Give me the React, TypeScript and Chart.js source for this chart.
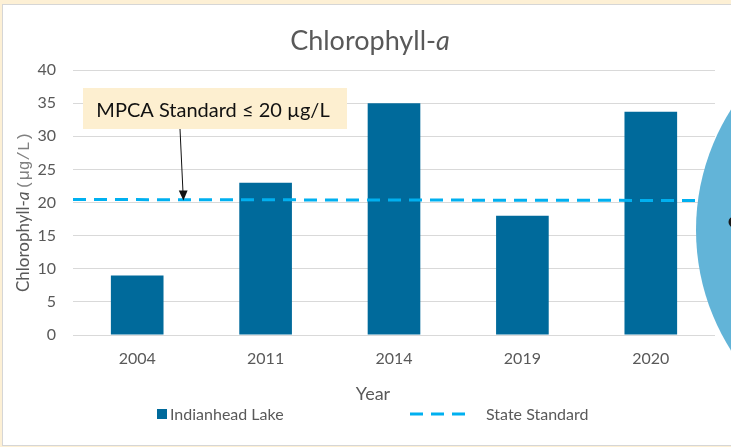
import React, { useEffect, useRef } from 'react';
import { Chart, registerables } from 'chart.js';

Chart.register(...registerables);

// ---- data ----
const years = ['2004', '2011', '2014', '2019', '2020'];
const lakeValues = [9, 23, 35, 18, 33.7];
const standardX = [0, 1];
const standardY = [20.45, 20.3];
const yMin = 0;
const yMax = 40;
const yStep = 5;

const lakeLabel = 'Indianhead Lake';
const standardLabel = 'State Standard';
const titleMain = 'Chlorophyll-';
const titleItalic = 'a';
const yTitleMain = 'Chlorophyll-';
const yTitleItalic = 'a';
const yTitleUnit = '(\u00b5g/L)';
const xTitle = 'Year';
const noteText = 'MPCA Standard \u2264 20 \u00b5g/L';

const BAR = '#006a9b';
const DASH = '#00b0f0';
const TEXT = '#595959';
const FONT = 'Lato';

const decor = {
  id: 'decor',
  afterDraw(chart: any) {
    const ctx = chart.ctx as CanvasRenderingContext2D;
    const yScale = chart.scales.y;
    ctx.save();

    // Title
    ctx.fillStyle = TEXT;
    ctx.textBaseline = 'alphabetic';
    ctx.textAlign = 'left';
    ctx.font = `27px ${FONT}`;
    const w1 = ctx.measureText(titleMain).width;
    ctx.font = `italic 27px ${FONT}`;
    const w2 = ctx.measureText(titleItalic).width;
    const sx = 370 - (w1 + w2) / 2;
    ctx.font = `27px ${FONT}`;
    ctx.fillText(titleMain, sx, 50);
    ctx.font = `italic 27px ${FONT}`;
    ctx.fillText(titleItalic, sx + w1, 50);

    // Y title (rotated)
    ctx.save();
    ctx.translate(29, 212);
    ctx.rotate(-Math.PI / 2);
    ctx.font = `17px ${FONT}`;
    const a1 = ctx.measureText(yTitleMain).width;
    ctx.font = `italic 17px ${FONT}`;
    const a2 = ctx.measureText(yTitleItalic).width;
    ctx.font = `16px "Liberation Mono"`;
    const a3 = ctx.measureText(yTitleUnit).width;
    const gap = 2;
    let px = -(a1 + a2 + gap + a3) / 2;
    ctx.fillStyle = TEXT;
    ctx.font = `17px ${FONT}`;
    ctx.fillText(yTitleMain, px, 0);
    px += a1;
    ctx.font = `italic 17px ${FONT}`;
    ctx.fillText(yTitleItalic, px, 0);
    px += a2 + gap;
    ctx.fillStyle = '#808080';
    ctx.font = `16px "Liberation Mono"`;
    ctx.fillText(yTitleUnit, px, 0);
    ctx.restore();

    // X title
    ctx.fillStyle = TEXT;
    ctx.font = `18px ${FONT}`;
    ctx.textAlign = 'center';
    ctx.fillText(xTitle, 373, 400);

    // Legend
    const ds = chart.data.datasets;
    const barDs = ds.find((d: any) => d.type === 'bar');
    const lineDs = ds.find((d: any) => d.type === 'line');
    ctx.textAlign = 'left';
    ctx.font = `16px ${FONT}`;
    ctx.fillStyle = barDs.backgroundColor;
    ctx.fillRect(157, 409, 10, 10);
    ctx.fillStyle = TEXT;
    ctx.fillText(barDs.label, 170, 420);
    ctx.strokeStyle = lineDs.borderColor;
    ctx.lineWidth = 3;
    ctx.setLineDash([13, 8]);
    ctx.beginPath();
    ctx.moveTo(410, 414);
    ctx.lineTo(468, 414);
    ctx.stroke();
    ctx.setLineDash([]);
    ctx.fillText(lineDs.label, 486, 420);

    // Annotation box
    ctx.fillStyle = '#fdefd0';
    ctx.fillRect(83, 88, 264, 41);
    ctx.fillStyle = '#111';
    ctx.font = `20px ${FONT}`;
    ctx.textAlign = 'center';
    ctx.fillText(noteText, 213, 117);

    // Arrow
    const tipY = yScale.getPixelForValue(standardY[0]) + 1;
    ctx.strokeStyle = '#111';
    ctx.lineWidth = 1;
    ctx.beginPath();
    ctx.moveTo(180, 129);
    ctx.lineTo(183, tipY - 8);
    ctx.stroke();
    ctx.fillStyle = '#111';
    ctx.beginPath();
    ctx.moveTo(183.4, tipY);
    ctx.lineTo(178.8, tipY - 10);
    ctx.lineTo(187.6, tipY - 10);
    ctx.closePath();
    ctx.fill();

    // Overlapping circle from the slide
    ctx.fillStyle = '#62b4d8';
    ctx.beginPath();
    ctx.arc(921, 230, 225, 0, Math.PI * 2);
    ctx.fill();
    ctx.fillStyle = '#1a1a1a';
    ctx.beginPath();
    ctx.arc(734, 222, 5.5, 0, Math.PI * 2);
    ctx.fill();

    ctx.restore();
  },
};

export default function App() {
  const ref = useRef<HTMLCanvasElement>(null);
  useEffect(() => {
    if (!ref.current) return;
    const chart = new Chart(ref.current, {
      type: 'bar',
      data: {
        labels: years,
        datasets: [
          {
            type: 'bar',
            label: lakeLabel,
            data: lakeValues,
            backgroundColor: BAR,
            borderWidth: 0,
            categoryPercentage: 1,
            barPercentage: 0.41,
            grouped: false,
            order: 1,
          } as any,
          {
            type: 'line',
            label: standardLabel,
            data: standardX.map((x, i) => ({ x, y: standardY[i] })),
            xAxisID: 'x2',
            borderColor: DASH,
            backgroundColor: DASH,
            borderWidth: 3,
            borderDash: [13, 8],
            pointRadius: 0,
            fill: false,
            order: 0,
          } as any,
        ],
      },
      options: {
        responsive: false,
        animation: false,
        devicePixelRatio: 1,
        layout: { padding: { left: 0, top: 70, right: 16, bottom: 72 } },
        plugins: { legend: { display: false }, title: { display: false }, tooltip: { enabled: false } },
        scales: {
          x: {
            type: 'category',
            offset: true,
            grid: { display: false, drawTicks: false },
            border: { display: false },
            ticks: { color: TEXT, font: { family: FONT, size: 16 }, padding: 14 },
            afterFit: (s: any) => { s.height = 40; },
          },
          x2: {
            type: 'linear',
            display: false,
            offset: false,
            grid: { offset: false },
            min: 0,
            max: 1,
          },
          y: {
            min: yMin,
            max: yMax,
            ticks: { stepSize: yStep, color: TEXT, font: { family: FONT, size: 16 }, padding: 17 },
            grid: { color: '#d9d9d9', drawTicks: false, lineWidth: 1 },
            border: { display: false },
            afterFit: (s: any) => { s.width = 73; },
          },
        },
      } as any,
      plugins: [decor],
    });
    return () => chart.destroy();
  }, []);

  return (
    <div style={{ position: 'fixed', left: 0, top: 0, width: 731, height: 447, background: '#fdf0d5', overflow: 'hidden', fontFamily: FONT }}>
      <div style={{ position: 'absolute', left: 2, top: 4, width: 800, height: 442, background: '#fff', border: '1px solid #d6d6d6', boxSizing: 'border-box' }} />
      <canvas ref={ref} width={731} height={447} style={{ position: 'absolute', left: 0, top: 0, width: 731, height: 447 }} />
    </div>
  );
}
